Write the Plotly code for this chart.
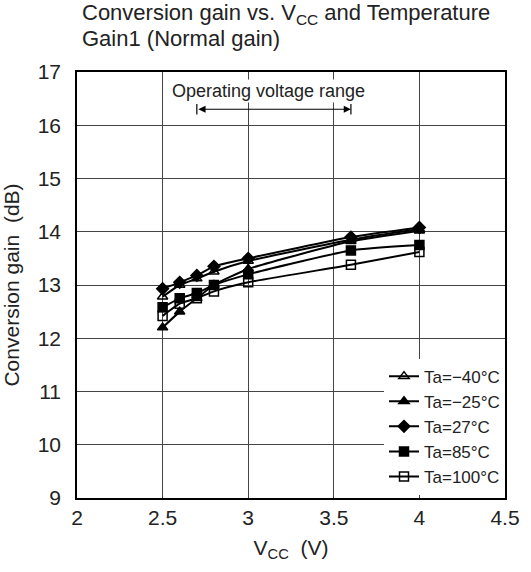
import plotly.graph_objects as go

vcc = [2.5, 2.6, 2.7, 2.8, 3.0, 3.6, 4.0]
labels = ["Ta=\u221240\u00b0C", "Ta=\u221225\u00b0C", "Ta=27\u00b0C", "Ta=85\u00b0C", "Ta=100\u00b0C"]
gain_m40 = [12.78, 13.00, 13.12, 13.25, 13.45, 13.85, 14.05]
gain_m25 = [12.20, 12.50, 12.75, 13.00, 13.30, 13.82, 14.02]
gain_27 = [12.93, 13.05, 13.18, 13.35, 13.50, 13.90, 14.08]
gain_85 = [12.58, 12.75, 12.85, 13.00, 13.20, 13.65, 13.75]
gain_100 = [12.42, 12.65, 12.75, 12.88, 13.05, 13.38, 13.62]
series = [gain_m40, gain_m25, gain_27, gain_85, gain_100]
symbols = ["triangle-up-open", "triangle-up", "diamond", "square", "square-open"]

title_lines = ["Conversion gain vs. V<sub>CC</sub> and Temperature", "Gain1 (Normal gain)"]
op_range = [2.7, 3.6]
op_level = 16.3
op_label = "Operating voltage range"

fig = go.Figure()
for lab, ys, sym in zip(labels, series, symbols):
    fig.add_trace(go.Scatter(
        x=vcc, y=ys, name=lab, mode="lines+markers",
        line=dict(color="black", width=2, shape="spline", smoothing=0.5),
        marker=dict(symbol=sym, size=9, color="black",
                    line=dict(color="black", width=1.5)),
    ))

font = "Liberation Sans, Arial, sans-serif"

fig.add_annotation(x=op_range[1], y=op_level, ax=op_range[0], ay=op_level,
                   xref="x", yref="y", axref="x", ayref="y", text="",
                   showarrow=True, arrowhead=2, arrowside="end+start",
                   arrowsize=1.2, arrowwidth=1.2, arrowcolor="black")
for xv in op_range:
    fig.add_shape(type="line", x0=xv, x1=xv, y0=op_level - 0.1, y1=op_level + 0.1,
                  xref="x", yref="y", line=dict(color="black", width=1.2))
fig.add_annotation(x=sum(op_range) / 2 - 0.03, y=op_level + 0.35, xref="x", yref="y",
                   text=op_label, showarrow=False, bgcolor="white",
                   font=dict(family=font, size=18, color="#222"))

fig.add_annotation(xref="paper", yref="paper", x=0.008, y=1.136, xanchor="left", yanchor="middle",
                   text=title_lines[0], showarrow=False,
                   font=dict(family=font, size=22, color="#222"))
fig.add_annotation(xref="paper", yref="paper", x=0.008, y=1.078, xanchor="left", yanchor="middle",
                   text=title_lines[1], showarrow=False,
                   font=dict(family=font, size=22, color="#222"))

fig.update_layout(
    width=531, height=572,
    paper_bgcolor="white", plot_bgcolor="white",
    margin=dict(l=77, r=26, t=72, b=74, autoexpand=False),
    font=dict(family=font, size=21, color="#222"),
    showlegend=True,
    legend=dict(x=1.0, y=0.008, xanchor="right", yanchor="bottom",
                bgcolor="white", borderwidth=0,
                font=dict(size=17, family=font, color="#222"),
                itemwidth=30, tracegroupgap=0),
)
fig.update_xaxes(range=[2, 4.5], dtick=0.5, tick0=2, automargin=False,
                 showgrid=True, gridcolor="#444", gridwidth=1,
                 showline=True, linecolor="black", linewidth=1.5, mirror=True,
                 ticks="", zeroline=False, tickfont=dict(size=21),
                 title=dict(text="V<sub>CC</sub>  (V)", standoff=12, font=dict(size=21)))
fig.update_yaxes(range=[9, 17], dtick=1, tick0=9, automargin=False,
                 showgrid=True, gridcolor="#444", gridwidth=1,
                 showline=True, linecolor="black", linewidth=1.5, mirror=True,
                 ticks="", zeroline=False, tickfont=dict(size=21), ticklabelstandoff=10,
                 title=dict(text="Conversion gain  (dB)", standoff=18, font=dict(size=21)))

fig.write_html("out.html", config={"displayModeBar": False},
               post_script="document.body.style.margin='0';")
